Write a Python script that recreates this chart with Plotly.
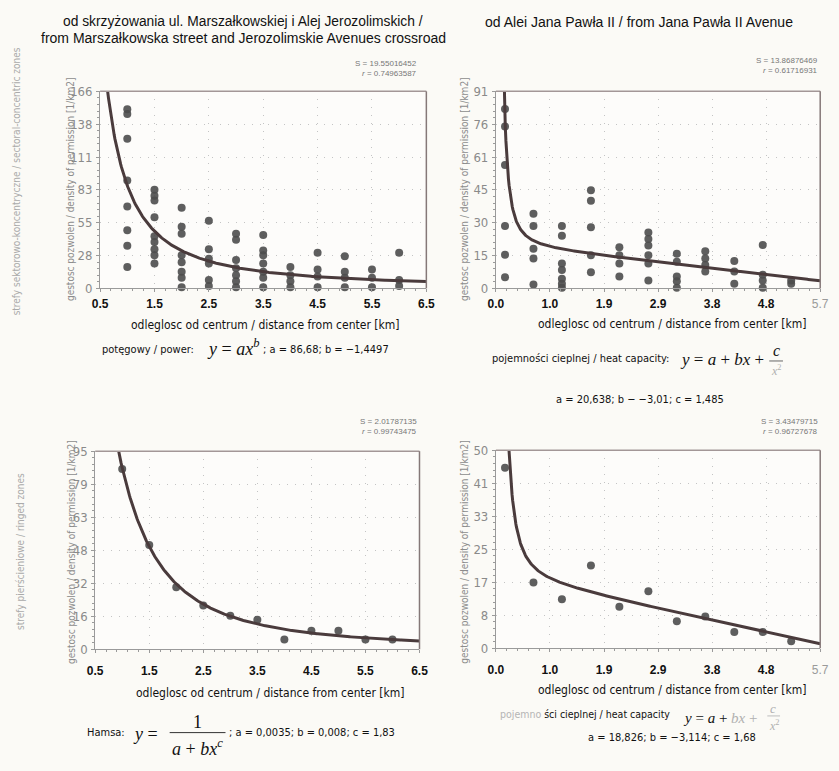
import numpy as np
import plotly.graph_objects as go

W, H = 839, 771

# ---------------- data ----------------
# sectoral-concentric zones, from Marszałkowska / Jerozolimskie crossroad
tl_dist = ([1.0] * 8 + [1.5] * 9 + [2.0] * 8 + [2.5] * 6 + [3.0] * 7 + [3.5] * 7
           + [4.0] * 4 + [4.5] * 4 + [5.0] * 4 + [5.5] * 3 + [6.0] * 3)
tl_density = [151, 147, 126, 91, 69, 49, 36, 18,
              83, 78, 74, 60, 44, 39, 33, 28, 21,
              68, 52, 46, 28, 22, 14, 9, 1,
              57, 33, 25, 21, 7, 2,
              46, 41, 24, 17, 11, 6, 1,
              45, 32, 28, 21, 14, 9, 1,
              18, 11, 6, 1,
              30, 16, 10, 1,
              27, 14, 9, 1,
              16, 9, 1,
              30, 7, 2]
tl_a, tl_b = 86.68, -1.4497
tl_S, tl_r = "19.55016452", "0.74963587"
tl_xticks = ["0.5", "1.5", "2.5", "3.5", "4.5", "5.5", "6.5"]
tl_yticks = ["0", "28", "55", "83", "111", "138", "166"]

# sectoral-concentric zones, from Jana Pawła II Avenue
tr_dist = ([0.16] * 6 + [0.66] * 5 + [1.16] * 7 + [1.67] * 5 + [2.17] * 4 + [2.68] * 6
           + [3.18] * 5 + [3.68] * 4 + [4.19] * 3 + [4.69] * 4 + [5.19] * 2)
tr_density = [82.8, 74.8, 57, 28.8, 15.6, 5.1,
              34.5, 28.8, 18.3, 13.8, 1.8,
              28.8, 24.3, 11.5, 8.5, 4.5, 2.1, 0.3,
              45.3, 40.5, 28.3, 15.3, 7.5,
              19, 15.3, 11.5, 5.5,
              25.8, 22.8, 19.8, 15.3, 11.5, 3.6,
              16, 12.3, 5.5, 3.3, 0.3,
              17.2, 13.8, 10.8, 7.8,
              12.7, 7.8, 2.2,
              20.1, 6.3, 3.6, 0.3,
              3.6, 2.1]
tr_a, tr_b, tr_c = 20.638, -3.01, 1.485
tr_S, tr_r = "13.86876469", "0.61716931"
tr_xticks = ["0.0", "1.0", "1.9", "2.9", "3.8", "4.8", "5.7"]
tr_yticks = ["0", "15", "30", "45", "61", "76", "91"]

# ringed zones, from Marszałkowska / Jerozolimskie crossroad
bl_dist = [1.0, 1.5, 2.0, 2.5, 3.0, 3.5, 4.0, 4.5, 5.0, 5.5, 6.0]
bl_density = [86.5, 50, 29.7, 21, 16.1, 14.1, 4.7, 8.9, 8.9, 4.7, 4.7]
bl_a, bl_b, bl_c = 0.0035, 0.008, 1.83
bl_S, bl_r = "2.01787135", "0.99743475"
bl_xticks = tl_xticks
bl_yticks = ["0", "16", "32", "48", "63", "79", "95"]

# ringed zones, from Jana Pawła II Avenue
br_dist = [0.16, 0.66, 1.16, 1.67, 2.17, 2.68, 3.18, 3.68, 4.19, 4.69, 5.19]
br_density = [45.6, 16.6, 12.4, 20.9, 10.5, 14.4, 6.8, 8.0, 4.1, 4.1, 1.8]
br_a, br_b, br_c = 18.826, -3.114, 1.68
br_S, br_r = "3.43479715", "0.96727678"
br_xticks = tr_xticks
br_yticks = ["0", "8", "17", "25", "33", "41", "50"]

# ---------------- styling ----------------
BG = "#fbfaf6"
DOT = "#4c4c4c"
CURVE = "#4a3b3c"
FRAME = "#a39797"
AXIS = "#9a9a9a"
GRID = "#c4c4c4"
NARROW = "Liberation Sans Narrow, DejaVu Sans Condensed, Liberation Sans, sans-serif"
SANS = "Liberation Sans, Arial, sans-serif"
SERIF = "Liberation Serif, Times New Roman, serif"


def px(x):
    return x / W


def py(y):
    return 1 - y / H


fig = go.Figure()

panels = [
    # (suffix, dist, dens, x range, ymax, xticks, yticks, x-domain px, y-domain px, label gap)
    ("", tl_dist, tl_density, (0.5, 6.5), 166, tl_xticks, tl_yticks, (94, 427), (86, 287), 1),
    ("2", tr_dist, tr_density, (0.0, 5.7), 91, tr_xticks, tr_yticks, (498, 829), (86, 287), 1),
    ("3", bl_dist, bl_density, (0.5, 6.5), 95, bl_xticks, bl_yticks, (89, 420), (453, 655), 7),
    ("4", br_dist, br_density, (0.0, 5.7), 50, br_xticks, br_yticks, (498, 829), (452, 654), 7),
]

# fitted curves from the stated model parameters
x_tl = np.linspace(0.55, 6.5, 400)
y_tl = tl_a * x_tl ** tl_b
x_tr = np.linspace(0.12, 5.7, 500)
y_tr = tr_a + tr_b * x_tr + tr_c / x_tr ** 2
x_bl = np.linspace(0.85, 6.5, 400)
y_bl = 1.0 / (bl_a + bl_b * x_bl ** bl_c)
x_br = np.linspace(0.15, 5.7, 500)
y_br = br_a + br_b * x_br + br_c / x_br ** 2
curves = [(x_tl, y_tl), (x_tr, y_tr), (x_bl, y_bl), (x_br, y_br)]

layout_axes = {}
for (suf, dist, dens, xr, ymax, xt, yt, xd, yd, gap), (cx, cy) in zip(panels, curves):
    xa = "x" + suf
    ya = "y" + suf
    fig.add_trace(go.Scatter(x=dist, y=dens, mode="markers", xaxis=xa, yaxis=ya,
                             marker=dict(size=8, color=DOT, opacity=0.9),
                             cliponaxis=False, showlegend=False, hoverinfo="skip"))
    fig.add_trace(go.Scatter(x=cx, y=cy, mode="lines", xaxis=xa, yaxis=ya,
                             line=dict(color=CURVE, width=3), showlegend=False,
                             hoverinfo="skip"))
    xstep = (xr[1] - xr[0]) / 6
    ystep = ymax / 6
    xtext = list(xt)
    if suf in ("2", "4"):
        xtext[-1] = "<span style='font-weight:normal;color:#9a9a9a'>%s</span>" % xt[-1]
    layout_axes["xaxis" + suf] = dict(
        domain=[px(xd[0]), px(xd[1])], range=list(xr), anchor=ya,
        tickvals=[xr[0] + i * xstep for i in range(7)], ticktext=xtext,
        tickfont=dict(family=SANS, size=12, color="#111", weight="bold"),
        ticks="outside", ticklen=3, tickcolor=AXIS, ticklabelstandoff=gap,
        showline=True, linecolor=AXIS, linewidth=1, mirror=False,
        showgrid=True, gridcolor=GRID, griddash="1px,7px", gridwidth=1,
        minor=dict(ticks="outside", ticklen=2, tickcolor=AXIS, dtick=xstep / 5,
                   tick0=xr[0], showgrid=False),
        zeroline=False, fixedrange=True,
    )
    layout_axes["yaxis" + suf] = dict(
        domain=[py(yd[1]), py(yd[0])], range=[0, ymax], anchor=xa,
        tickvals=[i * ystep for i in range(7)], ticktext=yt,
        tickfont=dict(family=NARROW, size=13, color="#8a8a8a"),
        ticks="outside", ticklen=3, tickcolor=AXIS, ticklabelstandoff=1,
        showline=True, linecolor=AXIS, linewidth=1,
        showgrid=True, gridcolor=GRID, griddash="1px,7px", gridwidth=1,
        minor=dict(ticks="outside", ticklen=2, tickcolor=AXIS, dtick=ystep / 5,
                   tick0=0, showgrid=False),
        zeroline=False, fixedrange=True,
    )
    # top and right frame of the plot area
    fig.add_shape(type="line", xref="paper", yref="paper",
                  x0=px(xd[0]), x1=px(xd[1]), y0=py(yd[0]), y1=py(yd[0]),
                  line=dict(color=FRAME, width=1.5))
    fig.add_shape(type="line", xref="paper", yref="paper",
                  x0=px(xd[1]), x1=px(xd[1]), y0=py(yd[0]), y1=py(yd[1]),
                  line=dict(color="#857878", width=1.5))

annotations = []


def note(x, y, text, size=11, color="#111", family=SANS, angle=0, xanchor="center",
         yanchor="middle"):
    annotations.append(dict(x=px(x), y=py(y), xref="paper", yref="paper", text=text,
                            showarrow=False, textangle=angle, xanchor=xanchor,
                            yanchor=yanchor, font=dict(size=size, color=color, family=family)))


# column titles
note(240, 15, "od skrzyżowania ul. Marszałkowskiej i Alej Jerozolimskich /", 13.8)
note(240, 32, "from Marszałkowska street and Jerozolimskie Avenues crossroad", 14)
note(644, 15, "od Alei Jana Pawła II / from Jana Pawła II Avenue", 14)

# row labels
note(9, 178, "strefy sektorowo-koncentryczne / sectoral-concentric zones", 10, "#aaaaaa",
     NARROW, -90)
note(12, 555, "strefy pierścieniowe / ringed zones", 10, "#aaaaaa", NARROW, -90)

# y-axis titles
ytitle = "gestosc pozwolen / density of permission [1/km2]"
for xx, yy in [(64, 186), (466, 186), (64, 556), (466, 556)]:
    note(xx, yy, ytitle, 10, "#8c8c8c", NARROW, -90)

# x-axis titles
xtitle = "odleglosc od centrum / distance from center [km]"
for xx, yy in [(262, 324), (678, 323), (267, 700), (678, 697)]:
    note(xx, yy, xtitle, 12, "#111", NARROW)

# fit statistics
for xr_, yy, S, r in [(419, 58, tl_S, tl_r), (829, 55, tr_S, tr_r),
                      (419, 423, bl_S, bl_r), (829, 423, br_S, br_r)]:
    note(xr_, yy, "S = " + S, 8, "#777", SANS, 0, "right")
    note(xr_, yy + 10, "<i>r</i> = " + r, 8, "#777", SANS, 0, "right")

# power formula, top-left
note(143, 349, "potęgowy / power:", 11, "#111", NARROW)
note(230, 347, "<i>y</i> = <i>ax<sup>b</sup></i>", 18, "#111", SERIF)
note(258, 349, "; a = 86,68; b = −1,4497", 11, "#111", NARROW, 0, "left")

# heat-capacity formula, top-right
note(677, 358, "pojemności cieplnej / heat capacity:", 11, "#111", NARROW, 0, "right")
note(684, 360, "<i>y</i> = <i>a</i> + <i>bx</i> +", 17, "#111", SERIF, 0, "left")
note(784, 350, "<i>c</i>", 16, "#111", SERIF)
fig.add_shape(type="line", xref="paper", yref="paper", x0=px(777), x1=px(791),
              y0=py(361), y1=py(361), line=dict(color="#666", width=1))
note(784, 371, "<i>x</i><sup>2</sup>", 12, "#b0b0b0", SERIF)
note(645, 400, "a = 20,638; b − −3,01; c = 1,485", 11, "#111", NARROW)

# Hamsa formula, bottom-left
note(100, 740, "Hamsa:", 11, "#111", NARROW)
note(140, 741, "<i>y</i> =", 18, "#111", SERIF)
note(193, 729, "1", 18, "#111", SERIF)
fig.add_shape(type="line", xref="paper", yref="paper", x0=px(165), x1=px(222),
              y0=py(740), y1=py(740), line=dict(color="#333", width=1))
note(193, 755, "<i>a</i> + <i>bx<sup>c</sup></i>", 18, "#111", SERIF)
note(224, 740, "; a = 0,0035; b = 0,008; c = 1,83", 11, "#111", NARROW, 0, "left")

# heat-capacity formula, bottom-right
note(678, 721,
     "<span style='color:#b5b5b5'>pojemno</span> ści cieplnej / heat capacity",
     10.5, "#111", NARROW, 0, "right")
note(687, 725, "<i>y</i> = <i>a</i> + <span style='color:#b0b0b0'><i>bx</i> +</span>",
     15, "#111", SERIF, 0, "left")
note(781, 715, "<i>c</i>", 13, "#b0b0b0", SERIF)
fig.add_shape(type="line", xref="paper", yref="paper", x0=px(775), x1=px(788),
              y0=py(723), y1=py(723), line=dict(color="#bdbdbd", width=1))
note(782, 733, "<i>x</i><sup>2</sup>", 12, "#b0b0b0", SERIF)
note(678, 745, "a = 18,826; b = −3,114; c = 1,68", 11, "#111", NARROW)

fig.update_layout(
    width=W, height=H, margin=dict(l=0, r=0, t=0, b=0),
    paper_bgcolor=BG, plot_bgcolor="#fdfcfa",
    annotations=annotations, **layout_axes,
)

fig.write_html("out.html")
